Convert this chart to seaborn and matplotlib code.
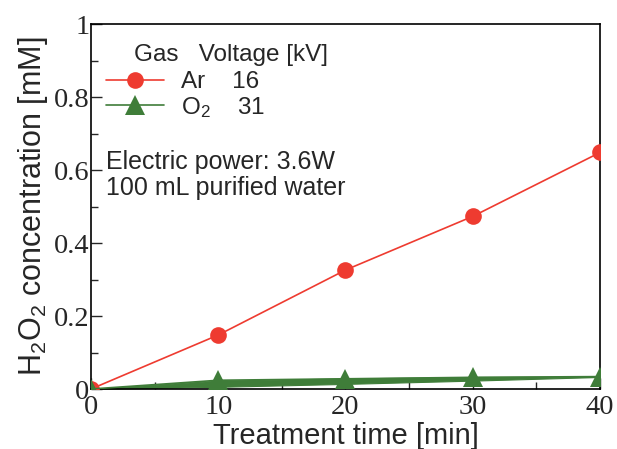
import numpy as np
import pandas as pd
import matplotlib
matplotlib.use('Agg')
import matplotlib.pyplot as plt
from matplotlib.ticker import MultipleLocator
import seaborn as sns

# data
time_min = [0, 10, 20, 30, 40]
ar_conc = [0.0, 0.148, 0.326, 0.473, 0.648]
o2_conc = [0.0, 0.024, 0.028, 0.032, 0.034]
o2_low = [0.0, 0.006, 0.014, 0.023, 0.033]
o2_high = [0.0, 0.023, 0.029, 0.033, 0.034]

ar_color = '#EE3B30'
o2_color = '#3F7D39'

sns.set_style('ticks')
plt.rcParams['font.family'] = ['Liberation Sans', 'DejaVu Sans']
plt.rcParams['mathtext.default'] = 'regular'

df = pd.DataFrame({'time': time_min, 'Ar': ar_conc, 'O2': o2_conc})

fig = plt.figure(figsize=(6.17, 4.49), dpi=100)
ax = fig.add_axes([0.1475, 0.1336, 0.8249, 0.8129])

# O2 thick band
ax.fill_between(time_min, o2_low, o2_high, color=o2_color, lw=0.8, zorder=2)
sns.lineplot(data=df, x='time', y='Ar', color=ar_color, marker='o', markersize=12,
             markeredgewidth=0, linewidth=1.2, ax=ax, zorder=3, label='Ar    16')
sns.lineplot(data=df, x='time', y='O2', color=o2_color, marker='^', markersize=14,
             markeredgewidth=0, linewidth=1.2, ax=ax, zorder=3, label='O$_2$    31')

ax.set_xlim(0, 40)
ax.set_ylim(0, 1)
ax.xaxis.set_major_locator(MultipleLocator(10))
ax.xaxis.set_minor_locator(MultipleLocator(5))
ax.yaxis.set_major_locator(MultipleLocator(0.2))
ax.yaxis.set_minor_locator(MultipleLocator(0.1))
ax.set_yticks([0, 0.2, 0.4, 0.6, 0.8, 1.0])
ax.set_yticklabels(['0', '0.2', '0.4', '0.6', '0.8', '1'])
ax.set_xticks([0, 10, 20, 30, 40])
ax.set_xticklabels(['0', '10', '20', '30', '40'])
for lab in ax.get_xticklabels() + ax.get_yticklabels():
    lab.set_fontfamily('Liberation Serif')
    lab.set_fontsize(20.5)
ax.tick_params(which='major', direction='in', length=8, width=1, pad=1)
ax.tick_params(which='minor', direction='in', length=5, width=1)
ax.tick_params(axis='x', pad=4)
for sp in ax.spines.values():
    sp.set_linewidth(1.2)
    sp.set_color('black')

ax.set_xlabel('Treatment time [min]', fontsize=21, labelpad=2)
ax.set_ylabel('H$_2$O$_2$ concentration [mM]', fontsize=22, labelpad=3)

ax.legend(loc='upper left', bbox_to_anchor=(0.0, 0.91), frameon=False, fontsize=17.5,
          handlelength=2.4, handletextpad=0.7, borderaxespad=0.2, labelspacing=0.05)
ax.text(0.085, 0.915, 'Gas   Voltage [kV]', transform=ax.transAxes, fontsize=17.5,
        ha='left', va='center')
ax.text(0.03, 0.587, 'Electric power: 3.6W\n100 mL purified water', transform=ax.transAxes,
        fontsize=18, ha='left', va='center', linespacing=1.1)

fig.savefig('out.png', dpi=100)
